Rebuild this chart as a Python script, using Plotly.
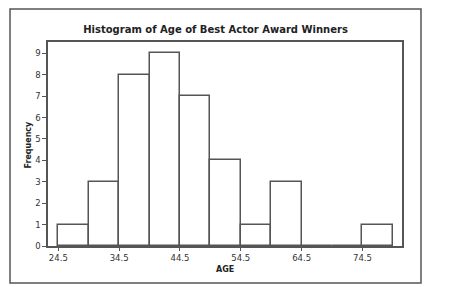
import plotly.graph_objects as go

bin_left = [24.5, 29.5, 34.5, 39.5, 44.5, 49.5, 54.5, 59.5, 64.5, 69.5, 74.5]
counts = [1, 3, 8, 9, 7, 4, 1, 3, 0, 0, 1]
bin_width = 5
x_ticks = [24.5, 34.5, 44.5, 54.5, 64.5, 74.5]
y_ticks = list(range(0, 10))

W, H = 449, 287
L, R, T, B = 48, 47, 42, 41
pw, ph = W - L - R, H - T - B

def px(x):
    return (x - L) / pw

def py(y):
    return (H - B - y) / ph

fig = go.Figure(go.Bar(
    x=bin_left, y=counts, width=bin_width, offset=0,
    marker=dict(color="white", line=dict(color="#555555", width=1.5)),
))

fig.update_layout(
    width=W, height=H,
    margin=dict(l=L, r=R, t=T, b=B),
    paper_bgcolor="white", plot_bgcolor="white",
    showlegend=False, bargap=0,
    font=dict(family="DejaVu Sans", color="#333333", size=8),
    title=dict(text="<b>Histogram of Age of Best Actor Award Winners</b>",
               x=215.5 / W, xanchor="center", y=1 - 29 / H, yanchor="middle",
               font=dict(size=10, color="#222222")),
    xaxis=dict(range=[22.8, 81.0], tickvals=x_ticks,
               ticktext=[str(v) for v in x_ticks],
               ticks="outside", ticklen=3, tickcolor="#555555", tickwidth=1.2,
               showgrid=False, zeroline=False,
               showline=True, mirror=True, linecolor="#555555", linewidth=1.5,
               tickfont=dict(size=8.5, color="#333333")),
    yaxis=dict(range=[0, 9.53], tickvals=y_ticks,
               ticks="outside", ticklen=4, tickcolor="#555555", tickwidth=1.2,
               showgrid=False, zeroline=False,
               showline=True, mirror=True, linecolor="#555555", linewidth=1.5,
               tickfont=dict(size=8.5, color="#333333")),
    shapes=[dict(type="rect", xref="paper", yref="paper",
                 x0=px(10), x1=px(421), y0=py(283), y1=py(9),
                 line=dict(color="#555555", width=1.5), fillcolor="rgba(0,0,0,0)",
                 layer="below")],
    annotations=[
        dict(text="<b>AGE</b>", xref="paper", yref="paper",
             x=px(225), y=py(269.5), xanchor="center", yanchor="middle",
             showarrow=False, font=dict(size=8, color="#222222")),
        dict(text="<b>Frequency</b>", xref="paper", yref="paper",
             x=px(27.5), y=py(145), xanchor="center", yanchor="middle",
             textangle=-90, showarrow=False, font=dict(size=8, color="#222222")),
    ],
)

fig.write_html("out.html")
